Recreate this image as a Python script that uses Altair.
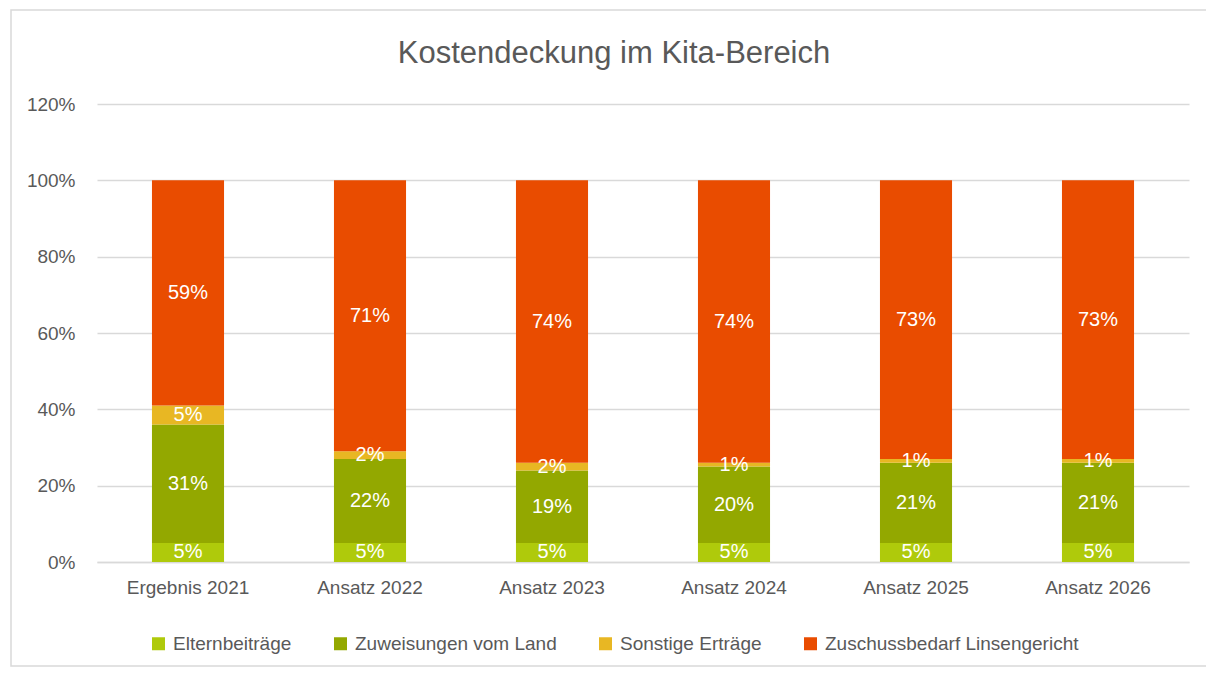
import altair as alt
import pandas as pd

categories = ["Ergebnis 2021", "Ansatz 2022", "Ansatz 2023", "Ansatz 2024", "Ansatz 2025", "Ansatz 2026"]
series = ["Elternbeiträge", "Zuweisungen vom Land", "Sonstige Erträge", "Zuschussbedarf Linsengericht"]
eltern = [5, 5, 5, 5, 5, 5]
zuweisungen = [31, 22, 19, 20, 21, 21]
sonstige = [5, 2, 2, 1, 1, 1]
zuschuss = [59, 71, 74, 74, 73, 73]
colors = ["#AFCA0B", "#93A800", "#E8B723", "#E94C00"]
y_ticks = [0, 0.2, 0.4, 0.6, 0.8, 1.0, 1.2]
title_text = "Kostendeckung im Kita-Bereich"

FONT = "Liberation Sans, Arial, sans-serif"
TXT = "#595959"

rows = []
for si, (name, vals) in enumerate(zip(series, [eltern, zuweisungen, sonstige, zuschuss])):
    for c, v in zip(categories, vals):
        rows.append({"cat": c, "series": name, "value": v / 100.0, "pct": v, "ord": si})
df = pd.DataFrame(rows)

W, H = 1092, 458

x_enc = alt.X("cat:N", sort=categories, title=None,
              scale=alt.Scale(paddingInner=0.604, paddingOuter=0.302),
              axis=alt.Axis(labelAngle=0, ticks=False, domain=True, domainColor="#d9d9d9",
                            domainWidth=1.3, labelPadding=16, labelFontSize=19,
                            labelColor=TXT, labelFont=FONT, grid=False))

base = alt.Chart(df)

bars = base.mark_bar().encode(
    x=x_enc,
    y=alt.Y("value:Q", stack="zero", title=None,
            scale=alt.Scale(domain=[0, 1.2], nice=False),
            axis=alt.Axis(values=y_ticks, format=".0%", domain=False, ticks=False,
                          gridColor="#d9d9d9", gridWidth=1.3, labelPadding=22,
                          labelFontSize=19, labelColor=TXT, labelFont=FONT)),
    color=alt.Color("series:N", sort=series,
                    scale=alt.Scale(domain=series, range=colors),
                    legend=alt.Legend(title=None, orient="none", direction="horizontal",
                                      legendX=52, legendY=530, symbolType="square",
                                      symbolSize=169, symbolStrokeWidth=0,
                                      labelFontSize=19, labelColor=TXT, labelFont=FONT,
                                      labelOffset=5, columnPadding=39, labelLimit=0)),
    order=alt.Order("ord:Q", sort="ascending"),
)

labels = base.transform_stack(
    stack="value", groupby=["cat"], as_=["y0", "y1"],
    sort=[alt.SortField("ord", order="ascending")]
).transform_calculate(
    mid="(datum.y0 + datum.y1) / 2",
    label="datum.pct + '%'"
).mark_text(color="white", fontSize=20, font=FONT, baseline="middle").encode(
    x=alt.X("cat:N", sort=categories),
    y=alt.Y("mid:Q"),
    text="label:N",
)

one = pd.DataFrame({"t": [title_text]})

border = alt.Chart(one).mark_rect(
    fill=None, stroke="#d9d9d9", strokeWidth=1.5
).encode(x=alt.value(-86), x2=alt.value(W + 19), y=alt.value(-94), y2=alt.value(H + 104))

title = alt.Chart(one).mark_text(
    fontSize=31, font=FONT, color=TXT, align="center", baseline="alphabetic"
).encode(x=alt.value(517), y=alt.value(-41), text="t:N")

chart = alt.layer(border, title, bars, labels).properties(
    width=W, height=H,
    padding={"left": 89, "top": 96, "right": 17, "bottom": 105},
    autosize=alt.AutoSizeParams(type="none"),
).configure_view(stroke=None)

chart.save("out.html", embed_options={"renderer": "svg", "actions": False})
